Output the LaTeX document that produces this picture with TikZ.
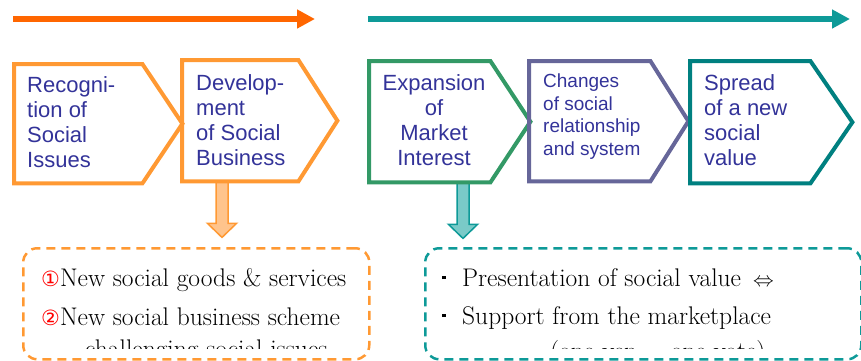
\documentclass[tikz,border=0pt]{standalone}
\usepackage{fontspec}
\usetikzlibrary{arrows.meta}
\newfontfamily\stagesans{Liberation Sans}
\newfontfamily\symfont{DejaVu Sans}
\definecolor{topOrange}{HTML}{FF6600}
\definecolor{topTeal}{HTML}{0E9A98}
\definecolor{stageOrange}{HTML}{FF9933}
\definecolor{stageGreen}{HTML}{339966}
\definecolor{stagePurple}{HTML}{666699}
\definecolor{stageTeal}{HTML}{008080}
\definecolor{stageText}{HTML}{333399}
\definecolor{arrowOrange}{HTML}{FFC48C}
\definecolor{arrowTeal}{HTML}{7ACAC8}
\newcommand{\circmark}[1]{{\symfont\fontsize{21}{21}\selectfont\color{red}#1}}
\newcommand{\dotmark}{\makebox[20pt][l]{\raisebox{7pt}{\rule{3.5pt}{3.5pt}}}}
\tikzset{
    timeline/.style={line width=6pt, -{Triangle[length=18pt, width=18pt]}},
    stageline/.style={line width=4pt, line join=miter},
    stagetext/.style={inner sep=0pt, anchor=north west, align=left, text=stageText,
        font=\stagesans\fontsize{22}{25}\selectfont},
    downarrow/.style={line width=1.5pt, line join=miter},
}
\begin{document}
\begin{tikzpicture}[x=1pt, y=-1pt]
\useasboundingbox (0,0) rectangle (861,360);
\coordinate (o1) at (13,19);
\coordinate (o2) at (315,19);
\coordinate (t1) at (368,19);
\coordinate (t2) at (850,19);
\draw[timeline, color=topOrange] (o1) -- (o2);
\draw[timeline, color=topTeal] (t1) -- (t2);
\begin{scope}[every node/.style={rectangle, inner sep=0pt, anchor=north west}]
    \node[minimum width=128, minimum height=119] (recog) at (14,64) {};
    \node[minimum width=116, minimum height=121] (dev) at (182,60) {};
    \node[minimum width=121, minimum height=121] (expan) at (369,61) {};
    \node[minimum width=121, minimum height=120] (chg) at (529,61) {};
    \node[minimum width=120, minimum height=122] (spread) at (690,61) {};
\end{scope}
\coordinate (dA) at ([xshift=40pt]dev.south west);
\coordinate (dB) at ([xshift=94pt]expan.south west);
\draw[downarrow, draw=stageOrange, fill=arrowOrange, shift={(dA)}]
    (-6,0) -- (-6,42) -- (-14.5,42) -- (0,56) -- (14.5,42) -- (6,42) -- (6,0) -- cycle;
\draw[downarrow, draw=topTeal, fill=arrowTeal, shift={(dB)}]
    (-6,0) -- (-6,42) -- (-14.5,42) -- (0,56) -- (14.5,42) -- (6,42) -- (6,0) -- cycle;
\draw[stageline, draw=stageOrange] (recog.north west) -- (recog.north east) -- ([xshift=40pt]recog.east) -- (recog.south east) -- (recog.south west) -- cycle;
\draw[stageline, draw=stageOrange] (dev.north west) -- (dev.north east) -- ([xshift=39pt]dev.east) -- (dev.south east) -- (dev.south west) -- cycle;
\draw[stageline, draw=stageGreen] (expan.north west) -- (expan.north east) -- ([xshift=40pt]expan.east) -- (expan.south east) -- (expan.south west) -- cycle;
\draw[stageline, draw=stagePurple] (chg.north west) -- (chg.north east) -- ([xshift=38pt]chg.east) -- (chg.south east) -- (chg.south west) -- cycle;
\draw[stageline, draw=stageTeal] (spread.north west) -- (spread.north east) -- ([xshift=42pt]spread.east) -- (spread.south east) -- (spread.south west) -- cycle;
\node[stagetext] (recogtext) at (27,76) {Recogni-\\tion of\\Social\\Issues};
\node[stagetext] (devtext) at (196,74) {Develop-\\ment\\of Social\\Business};
\node[stagetext, anchor=north, align=center] (expantext) at (434,74) {Expansion\\of\\Market\\Interest};
\node[stagetext, font=\stagesans\fontsize{19}{22.5}\selectfont] (chgtext) at (543,74) {Changes\\of social\\relationship\\and system};
\node[stagetext] (spreadtext) at (704,74) {Spread\\of a new\\social\\value};
\begin{scope}[every node/.style={rectangle, rounded corners=14pt, dash pattern=on 9pt off 6pt, line width=2.5pt, inner sep=0pt, anchor=north west}]
    \node[draw=stageOrange, minimum width=346, minimum height=111] (goods) at (22,247) {};
    \node[draw=topTeal, minimum width=436, minimum height=111] (market) at (424,247) {};
\end{scope}
\begin{scope}
    \clip (0,0) rectangle (861,348);
    \begin{scope}[every node/.style={inner sep=0pt, anchor=base west, font=\fontsize{25.5}{28}\selectfont}]
        \node (item1) at (41,286) {\circmark{①}New social goods \& services};
        \node (item2) at (41,325) {\circmark{②}New social business scheme};
        \node (item2b) at (85,357) {challenging social issues};
        \node (point1) at (442,286) {\dotmark Presentation of social value\hspace{12pt}{\fontsize{20}{20}\selectfont$\Leftrightarrow$}};
        \node (point2) at (442,324) {\dotmark Support from the marketplace};
        \node (point2b) at (550,359) {(one yen = one vote)};
    \end{scope}
\end{scope}
\end{tikzpicture}
\end{document}
